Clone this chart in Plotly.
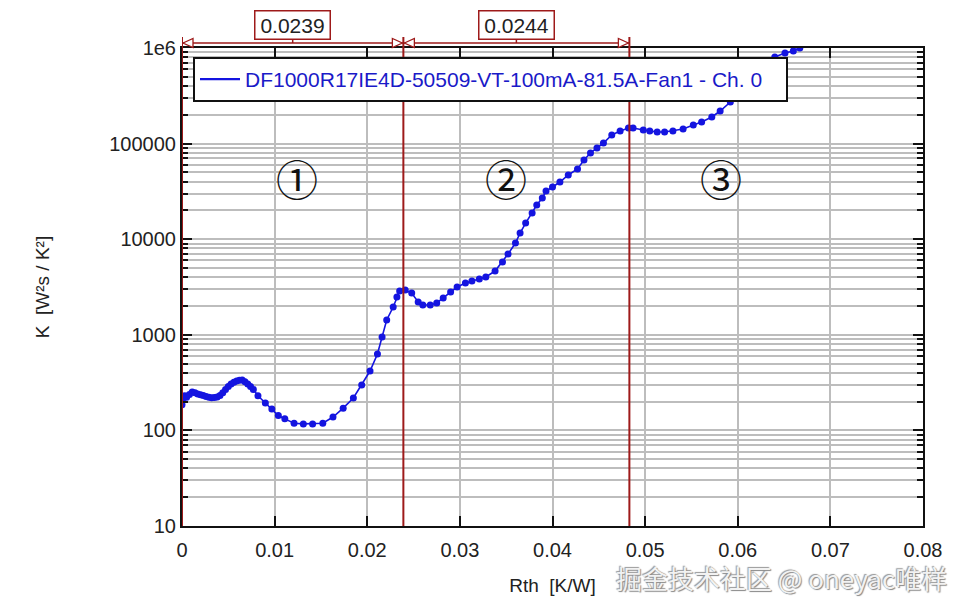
import math
import plotly.graph_objects as go

# ---------------- data ----------------
rth = [0.0000, 0.0001, 0.0003, 0.0005, 0.0008, 0.0011, 0.0014, 0.0017, 0.0020, 0.0023,
       0.0026, 0.0029, 0.0032, 0.0035, 0.0038, 0.0041, 0.0044, 0.0047, 0.0050, 0.0053,
       0.0056, 0.0059, 0.0062, 0.0065, 0.0068, 0.0071, 0.0074, 0.0077, 0.0082, 0.0090,
       0.0097, 0.0104, 0.0111, 0.0121, 0.0131, 0.0141, 0.0152, 0.0163, 0.0174, 0.0185,
       0.0194, 0.0203, 0.0211, 0.0216, 0.0221, 0.0228, 0.0232, 0.0235, 0.0241, 0.0248,
       0.0255, 0.0260, 0.0268, 0.0275, 0.0282, 0.0290, 0.0297, 0.0306, 0.0313, 0.0321,
       0.0328, 0.0338, 0.0346, 0.0352, 0.0360, 0.0365, 0.0371, 0.0378, 0.0383, 0.0389,
       0.0393, 0.0400, 0.0408, 0.0417, 0.0427, 0.0434, 0.0441, 0.0448, 0.0455, 0.0464,
       0.0473, 0.0482, 0.0487, 0.0498, 0.0505, 0.0513, 0.0521, 0.0530, 0.0541, 0.0552,
       0.0561, 0.0572, 0.0581, 0.0592, 0.0599, 0.0608, 0.0615, 0.0624, 0.0632, 0.0640,
       0.0651, 0.0660, 0.0667, 0.0675]
k_val = [185, 215, 230, 222, 238, 252, 248, 240, 236, 232,
         226, 222, 220, 221, 224, 232, 248, 268, 288, 305,
         318, 328, 334, 336, 322, 305, 288, 268, 230, 193,
         167, 143, 132, 119, 117, 117, 119, 138, 171, 218,
         299, 418, 629, 948, 1429, 1954, 2484, 2868, 2940, 2735,
         2203, 2051, 2051, 2152, 2428, 2805, 3162, 3483, 3656, 3837,
         4027, 4645, 5778, 7000, 9120, 11610, 14760, 18790, 22800, 26980,
         31920, 35150, 39630, 46950, 54200, 67300, 79800, 90000, 101400, 123000,
         135500, 145600, 145600, 138700, 135500, 132100, 132100, 135500, 142200, 156700,
         168300, 189700, 219300, 272200, 322100, 381900, 462600, 561000, 680800, 805400,
         887200, 931100, 1000000, 1100000]

series_name = "DF1000R17IE4D-50509-VT-100mA-81.5A-Fan1 - Ch. 0"
x_tickvals = [0, 0.01, 0.02, 0.03, 0.04, 0.05, 0.06, 0.07, 0.08]
x_ticktext = ["0", "0.01", "0.02", "0.03", "0.04", "0.05", "0.06", "0.07", "0.08"]
y_tickvals = [10, 100, 1000, 10000, 100000, 1000000]
y_ticktext = ["10", "100", "1000", "10000", "100000", "1e6"]
y_minorvals = [m * d for d in [10, 100, 1000, 10000, 100000] for m in range(2, 10)]
cursor_x = [0.0, 0.0239, 0.0483]
delta_labels = ["0.0239", "0.0244"]
region_labels = ["①", "②", "③"]
region_x = [0.0124, 0.0350, 0.0582]
region_y = [44700, 44700, 44700]

BLUE = "#1414e0"
RED = "#9e1a1a"
GRID = "#bdbdbd"
FONT = "Liberation Sans, Arial, sans-serif"

# page offset (body margin) compensation: target plot area 182..923 x 48..526
OFF = 8
W, H = 961, 609
L, T = 182 - OFF, 48 - OFF
R = W - (923 - OFF)
B = H - (526 - OFF)
pw, ph = W - L - R, H - T - B

fig = go.Figure()
fig.add_trace(go.Scatter(
    x=rth, y=k_val, mode="lines+markers",
    line=dict(color=BLUE, width=1.6),
    marker=dict(color=BLUE, size=7),
    showlegend=False, hoverinfo="skip"))
fig.add_trace(go.Scatter(
    x=[None], y=[None], mode="lines", name=series_name,
    line=dict(color=BLUE, width=2.2), showlegend=True))

shapes = []
DIM_Y = 1 + 5 / ph
for cx in cursor_x:
    shapes.append(dict(type="line", xref="x", yref="paper", x0=cx, x1=cx, y0=0, y1=1 + 11 / ph,
                       line=dict(color=RED, width=2), layer="above"))
for i, lab in enumerate(delta_labels):
    a, b = cursor_x[i], cursor_x[i + 1]
    shapes.append(dict(type="line", xref="x", yref="paper", x0=a, x1=b, y0=DIM_Y, y1=DIM_Y,
                       line=dict(color=RED, width=1.5), layer="above"))
    shapes.append(dict(type="path", xref="x", yref="paper", xsizemode="pixel", ysizemode="pixel",
                       xanchor=a, yanchor=DIM_Y, path="M 1,0 L 11,4.5 L 11,-4.5 Z",
                       line=dict(color=RED, width=1.3), fillcolor="white", layer="above"))
    shapes.append(dict(type="path", xref="x", yref="paper", xsizemode="pixel", ysizemode="pixel",
                       xanchor=b, yanchor=DIM_Y, path="M -1,0 L -11,4.5 L -11,-4.5 Z",
                       line=dict(color=RED, width=1.3), fillcolor="white", layer="above"))
    mid = (a + b) / 2
    shapes.append(dict(type="line", xref="x", yref="paper", x0=mid, x1=mid, y0=DIM_Y, y1=1 + 11 / ph,
                       line=dict(color=RED, width=1.5), layer="above"))

annotations = []
for i, lab in enumerate(delta_labels):
    mid = (cursor_x[i] + cursor_x[i + 1]) / 2
    annotations.append(dict(x=mid, y=1 + 23 / ph, xref="x", yref="paper", text=lab, showarrow=False,
                            yanchor="middle", width=70, align="center",
                            font=dict(family=FONT, size=21, color="#222"),
                            bgcolor="white", bordercolor=RED, borderwidth=1.5, borderpad=2))
for t, rx, ry in zip(region_labels, region_x, region_y):
    annotations.append(dict(x=rx, y=math.log10(ry), xref="x", yref="y", yanchor="middle", text=t,
                            showarrow=False,
                            font=dict(family="Noto Sans CJK SC", size=42, color="#111")))
annotations.append(dict(x=(949 - OFF - L) / pw, y=(H - B - (577 - OFF)) / ph,
                        xref="paper", yref="paper", text="掘金技术社区 @ oneyac唯样",
                        showarrow=False, xanchor="right", yanchor="middle",
                        font=dict(family="Noto Sans CJK SC", size=26, color="#f2f2f2",
                                  shadow="1px 1px 1px #888, -1px -1px 1px #999")))

fig.update_layout(
    width=W, height=H,
    margin=dict(l=L, r=R, t=T, b=B, autoexpand=False),
    paper_bgcolor="white", plot_bgcolor="white",
    font=dict(family=FONT, color="#222"),
    shapes=shapes, annotations=annotations,
    legend=dict(x=(193 - 182) / pw, y=1 - (57 - 48) / ph, xanchor="left", yanchor="top",
                bgcolor="white", bordercolor="#111", borderwidth=2,
                font=dict(family=FONT, size=21, color="#1a1ac8"),
                orientation="h", entrywidth=536, entrywidthmode="pixels",
                itemwidth=40),
    xaxis=dict(range=[0, 0.08], tickmode="array", tickvals=x_tickvals, ticktext=x_ticktext,
               showgrid=True, gridcolor=GRID, gridwidth=2, zeroline=False,
               showline=True, linecolor="#111", linewidth=2, mirror="ticks",
               ticks="inside", ticklen=10, tickwidth=2, tickcolor="#111",
               ticklabelstandoff=5,
               tickfont=dict(size=20, color="#222"),
               title=dict(text="Rth  [K/W]", font=dict(size=19, color="#222"), standoff=19)),
    yaxis=dict(type="log", range=[1, 6], tickmode="array", tickvals=y_tickvals, ticktext=y_ticktext,
               showgrid=True, gridcolor=GRID, gridwidth=1.5, zeroline=False,
               showline=True, linecolor="#111", linewidth=2, mirror="ticks",
               ticks="inside", ticklen=10, tickwidth=2, tickcolor="#111",
               tickfont=dict(size=20, color="#222"),
               minor=dict(tickmode="array", tickvals=y_minorvals, showgrid=True, gridcolor=GRID,
                          gridwidth=1.5, ticks="inside", ticklen=6, tickwidth=1.5, tickcolor="#111"),
               title=dict(text="K  [W²s / K²]", font=dict(size=19, color="#222"), standoff=55)),
)

fig.write_html("out.html")
